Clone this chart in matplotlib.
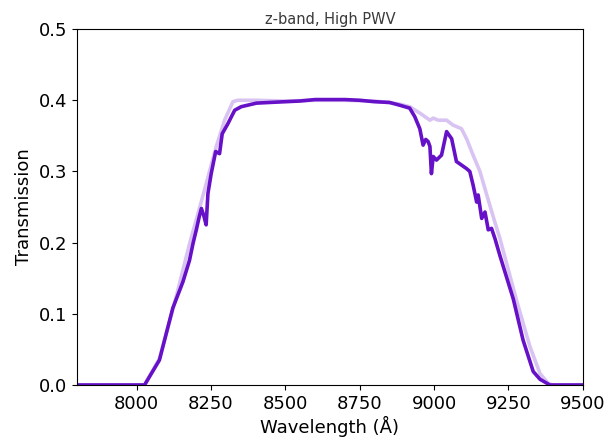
import matplotlib
matplotlib.use("Agg")
import matplotlib.pyplot as plt

# High PWV transmission (dark)
wl_high = [7800, 8000, 8027, 8077, 8122, 8156, 8178, 8190, 8201, 8210, 8218, 8226, 8234, 8240, 8251, 8266, 8279,
           8288, 8307, 8319, 8330, 8352, 8403, 8450, 8500, 8550, 8600, 8650, 8700, 8750, 8800, 8850, 8885, 8918,
           8935, 8952, 8963, 8972, 8980, 8986, 8991, 8997, 9008, 9025, 9042, 9059, 9075, 9092, 9109, 9120, 9131,
           9143, 9148, 9160, 9171, 9182, 9193, 9205, 9221, 9266, 9299, 9333, 9356, 9389, 9500]
tr_high = [0.0, 0.0, 0.0, 0.035, 0.108, 0.145, 0.175, 0.199, 0.218, 0.235, 0.248, 0.238, 0.225, 0.269, 0.297, 0.328, 0.325,
           0.353, 0.367, 0.377, 0.386, 0.391, 0.396, 0.397, 0.398, 0.399, 0.401, 0.401, 0.401, 0.400, 0.398, 0.397, 0.393, 0.389,
           0.377, 0.36, 0.337, 0.345, 0.342, 0.335, 0.297, 0.321, 0.316, 0.323, 0.356, 0.346, 0.314, 0.309, 0.304, 0.300, 0.281,
           0.257, 0.267, 0.234, 0.243, 0.218, 0.22, 0.205, 0.182, 0.121, 0.063, 0.019, 0.008, 0.0, 0.0]

# Reference transmission (light)
wl_ref = [7800, 8000, 8027, 8077, 8134, 8178, 8218, 8268, 8296, 8324, 8340, 8400, 8500, 8600, 8700,
          8800, 8880, 8918, 8952, 8986, 8997, 9014, 9042, 9064, 9092, 9109, 9131, 9154, 9177, 9204, 9221,
          9277, 9322, 9356, 9384, 9400, 9500]
tr_ref = [0.0, 0.0, 0.0, 0.037, 0.125, 0.198, 0.258, 0.335, 0.372, 0.398, 0.400, 0.400, 0.399, 0.400, 0.400,
          0.399, 0.395, 0.391, 0.382, 0.372, 0.375, 0.372, 0.372, 0.365, 0.36, 0.346, 0.323, 0.30, 0.267, 0.229, 0.206,
          0.119, 0.054, 0.016, 0.002, 0.0, 0.0]

x_ticks = [8000, 8250, 8500, 8750, 9000, 9250, 9500]
y_ticks = [0.0, 0.1, 0.2, 0.3, 0.4, 0.5]

fig = plt.figure(figsize=(6.11, 4.41), dpi=100)
ax = fig.add_axes([0.126, 0.127, 0.828, 0.807])
ax.plot(wl_ref, tr_ref, color="#d9c3f2", lw=2.6, solid_joinstyle="round")
ax.plot(wl_high, tr_high, color="#6610c8", lw=2.6, solid_joinstyle="round")
ax.set_xlim(7800, 9500)
ax.set_ylim(0, 0.5)
ax.set_xticks(x_ticks)
ax.set_yticks(y_ticks)
ax.set_yticklabels([f"{v:.1f}" for v in y_ticks])
ax.tick_params(labelsize=13)
ax.set_xlabel("Wavelength (Å)", fontsize=13, labelpad=2)
ax.set_ylabel("Transmission", fontsize=13)
ax.set_title("z-band, High PWV", fontsize=10.5, color="#3a3a3a", pad=4)
fig.savefig("out.png", dpi=100)
